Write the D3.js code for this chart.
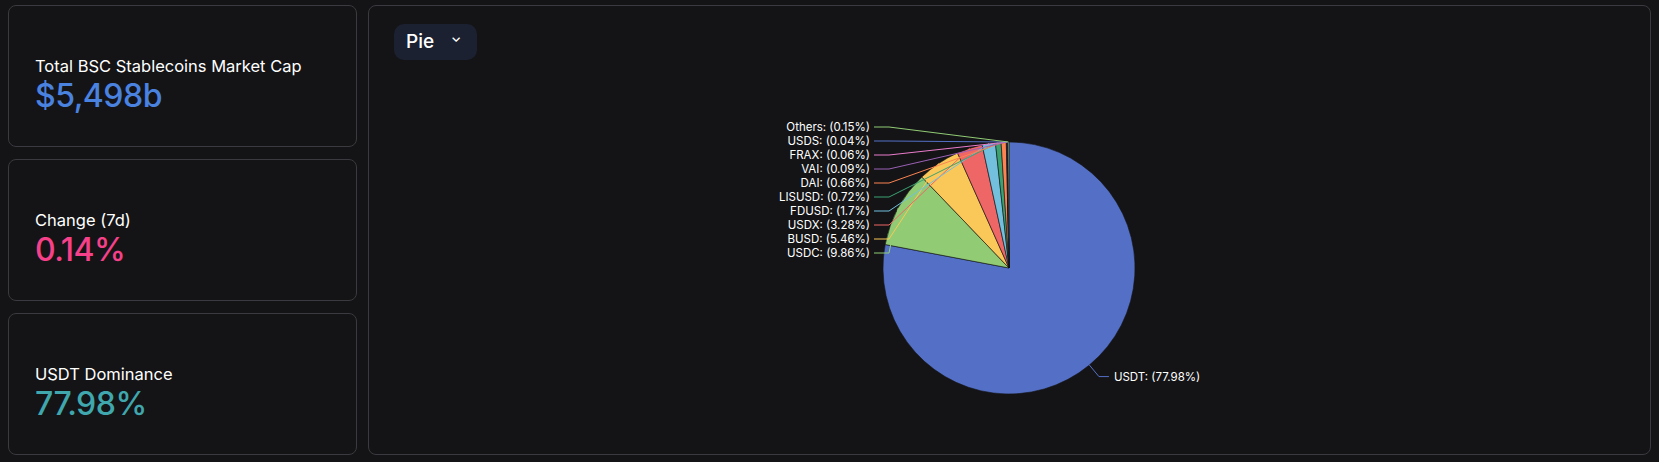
<!DOCTYPE html><html><head><meta charset="utf-8">
<script src="https://cdn.jsdelivr.net/npm/d3@7"></script>
<style>
body{margin:0;background:#141416;font-family:Inter,sans-serif;width:1659px;height:462px;overflow:hidden;position:relative}
.card{position:absolute;left:8px;width:349px;height:142px;border:1px solid #3a3a40;border-radius:8px;box-sizing:border-box;background:#141416}
.t{position:absolute;left:26px;color:#fff;font-size:16.5px}
.v{position:absolute;left:26px;font-size:32px;font-weight:500;letter-spacing:-0.5px}
#main{position:absolute;left:368px;top:5px;width:1283px;height:450px;border:1px solid #3a3a40;border-radius:8px;box-sizing:border-box}
#btn{position:absolute;left:25px;top:18px;width:83px;height:36px;background:#1b2130;border-radius:10px;color:#fff;font-size:19px;font-weight:500}
svg{position:absolute;left:0;top:0}
</style></head><body>
<div class="card" style="top:5px"><div class="t" style="top:50px">Total BSC Stablecoins Market Cap</div><div class="v" style="top:70px;color:#4a82e0">$5,498b</div></div>
<div class="card" style="top:159px"><div class="t" style="top:50px">Change (7d)</div><div class="v" style="top:70px;color:#f7408a">0.14%</div></div>
<div class="card" style="top:313px"><div class="t" style="top:50px">USDT Dominance</div><div class="v" style="top:70px;color:#3fa7ad">77.98%</div></div>
<div id="main"><div id="btn"><span style="position:absolute;left:12px;top:6px">Pie</span><span style="position:absolute;left:57px;top:5px;font-size:13px">&#8964;</span></div></div>
<svg id="c" width="1659" height="462"></svg>
<script>
const names=["USDT","USDC","BUSD","USDX","FDUSD","LISUSD","DAI","VAI","FRAX","USDS","Others"];
const values=[77.98,9.86,5.46,3.28,1.7,0.72,0.66,0.09,0.06,0.04,0.15];
const colors=["#5470c6","#91cc75","#fac858","#ee6666","#73c0de","#3ba272","#fc8452","#9a60b4","#ea7ccc","#5470c6","#91cc75"];
const cx=1009,cy=268,r=126;
const svg=d3.select("#c");
const arcs=d3.pie().sort(null).value(d=>d)(values);
const arc=d3.arc().innerRadius(0).outerRadius(r);
svg.selectAll("path.s").data(arcs).join("path").attr("class","s")
 .attr("transform",`translate(${cx},${cy})`).attr("d",arc).attr("fill",(d,i)=>colors[i])
 .attr("stroke","#141416").attr("stroke-width",0.6);
const L=arcs.map((d,i)=>{const a=(d.startAngle+d.endAngle)/2;
 return {i,a,x0:cx+r*Math.sin(a),y0:cy-r*Math.cos(a),x1:cx+(r+15)*Math.sin(a),y1:cy-(r+15)*Math.cos(a),left:Math.sin(a)<0};});
const left=L.filter(d=>d.left).sort((a,b)=>a.y1-b.y1);
let prev=-1e9;left.forEach(d=>{d.y1=Math.max(d.y1,prev+14);prev=d.y1;d.x1=cx-120;d.x2=d.x1-15;d.tx=d.x2-4;d.anchor="end";});
L.filter(d=>!d.left).forEach(d=>{d.x2=d.x1+10;d.tx=d.x2+5;d.anchor="start";});
const g=svg.append("g");
L.forEach(d=>{
 g.append("polyline").attr("points",`${d.x0},${d.y0} ${d.x1},${d.y1} ${d.x2},${d.y1}`).attr("fill","none").attr("stroke",colors[d.i]).attr("stroke-width",1);
 g.append("text").attr("x",d.tx).attr("y",d.y1).attr("dy","0.35em").attr("text-anchor",d.anchor)
  .attr("fill","#fff").attr("font-size","11.5px").attr("font-family","Inter,sans-serif")
  .text(`${names[d.i]}: (${values[d.i]}%)`);
});
</script></body></html>
